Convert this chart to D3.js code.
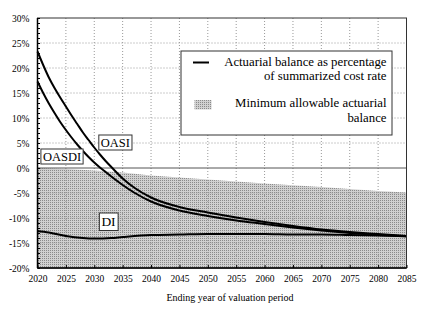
<!DOCTYPE html>
<html><head><meta charset="utf-8">
<script src="https://cdn.jsdelivr.net/npm/d3@7/dist/d3.min.js"></script>
<style>
html,body{margin:0;padding:0;background:#fff;}
</style></head>
<body><svg id="c" width="432" height="336"></svg>
<script>
// ---- data ----
const years = [2020,2021,2022,2023,2024,2025,2026,2027,2028,2029,2030,2031,2032,2033,2035,2037,2040,2045,2050,2055,2060,2065,2070,2075,2080,2085];
const oasi  = [23.3,20.6,18.1,16.0,14.1,12.3,10.5,8.8,7.1,5.6,4.1,2.7,1.4,0.2,-2.1,-3.9,-5.9,-7.8,-8.9,-9.9,-10.8,-11.6,-12.3,-12.8,-13.2,-13.6];
const oasdi = [17.3,15.0,12.9,11.0,9.2,7.6,6.1,4.7,3.4,2.2,1.1,0.1,-0.8,-1.7,-3.4,-4.9,-6.7,-8.5,-9.6,-10.5,-11.2,-11.9,-12.5,-13.0,-13.4,-13.7];
const diYears = [2020,2022,2025,2028,2030,2033,2035,2040,2045,2050,2055,2060,2065,2070,2075,2080,2085];
const di      = [-12.6,-12.9,-13.6,-14.0,-14.1,-14.0,-13.8,-13.4,-13.3,-13.2,-13.2,-13.2,-13.3,-13.3,-13.4,-13.5,-13.6];
const minYears = [2020,2025,2030,2035,2040,2050,2060,2070,2080,2085];
const minVals  = [0,-0.2,-0.5,-0.9,-1.5,-2.3,-3.1,-3.8,-4.6,-4.9];
const xTicks = [2020,2025,2030,2035,2040,2045,2050,2055,2060,2065,2070,2075,2080,2085];
const yTicks = [-20,-15,-10,-5,0,5,10,15,20,25,30];
const legendLabels = [["Actuarial balance as percentage","of summarized cost rate"],["Minimum allowable actuarial","balance"]];
const seriesLabels = ["OASDI","OASI","DI"];

// ---- chart ----
const FF = "Liberation Serif";
const svg = d3.select("#c");
const x = d3.scaleLinear().domain([2020,2085]).range([37.5,406.5]);
const y = d3.scaleLinear().domain([-20,30]).range([268,18]);

const defs = svg.append("defs");
const pat = defs.append("pattern").attr("id","dots").attr("patternUnits","userSpaceOnUse")
  .attr("width",2).attr("height",2);
pat.append("rect").attr("width",2).attr("height",2).attr("fill","#d0d0d0");
pat.append("rect").attr("width",1).attr("height",1).attr("fill","#8a8a8a");

// shaded min area
const minData = minYears.map((yr,i)=>({yr,v:minVals[i]}));
svg.append("path").datum(minData)
  .attr("d", d3.area().x(d=>x(d.yr)).y0(y(-20)).y1(d=>y(d.v)))
  .attr("fill","url(#dots)");

// gridlines
const g = svg.append("g");
g.selectAll(".vg").data(xTicks.slice(1,-1)).join("line")
  .attr("x1",d=>x(d)).attr("x2",d=>x(d)).attr("y1",y(30)).attr("y2",y(-20))
  .attr("stroke","#999").attr("stroke-width",1).attr("stroke-dasharray","1,2");
g.selectAll(".hg").data(yTicks.filter(d=>d!==0&&d!==30&&d!==-20)).join("line")
  .attr("x1",x(2020)).attr("x2",x(2085)).attr("y1",d=>y(d)).attr("y2",d=>y(d))
  .attr("stroke","#999").attr("stroke-width",1).attr("stroke-dasharray","1,2");

// zero line
svg.append("line").attr("x1",x(2020)).attr("x2",x(2085)).attr("y1",y(0)).attr("y2",y(0))
  .attr("stroke","#555").attr("stroke-width",1);

// lines
const line = d3.line().x(d=>x(d[0])).y(d=>y(d[1])).curve(d3.curveMonotoneX);
[[years,oasi],[years,oasdi],[diYears,di]].forEach(([xs,vs])=>{
  svg.append("path").datum(xs.map((v,i)=>[v,vs[i]]))
    .attr("d",line).attr("fill","none").attr("stroke","#000").attr("stroke-width",2);
});

// plot frame
svg.append("rect").attr("x",x(2020)).attr("y",y(30)).attr("width",x(2085)-x(2020)).attr("height",y(-20)-y(30))
  .attr("fill","none").attr("stroke","#333").attr("stroke-width",1);
svg.append("line").attr("x1",x(2020)).attr("x2",x(2020)).attr("y1",y(30)).attr("y2",y(-20))
  .attr("stroke","#000").attr("stroke-width",1.5);
svg.append("line").attr("x1",x(2020)).attr("x2",x(2085)).attr("y1",y(-20)).attr("y2",y(-20))
  .attr("stroke","#000").attr("stroke-width",1.5);

// axes
const yAx = svg.append("g").attr("transform",`translate(${x(2020)},0)`)
  .call(d3.axisLeft(y).tickValues(yTicks).tickFormat(d=>d+"%").tickSize(0).tickPadding(8));
yAx.attr("font-family",null).attr("font-size",null);
yAx.selectAll("text").style("font-family",FF).style("font-size","9.5px");
yAx.select(".domain").remove();
const minorY = d3.range(-20,31,1);
svg.append("g").attr("transform",`translate(${x(2020)},0)`)
  .call(d3.axisRight(y).tickValues(minorY).tickFormat("").tickSize(2.5))
  .call(s=>{s.select(".domain").remove(); s.selectAll("line").attr("stroke","#000");});

const xAx = svg.append("g").attr("transform",`translate(0,${y(-20)})`)
  .call(d3.axisBottom(x).tickValues(xTicks).tickFormat(d3.format("d")).tickSize(0).tickPadding(7));
xAx.attr("font-family",null).attr("font-size",null);
xAx.selectAll("text").style("font-family",FF).style("font-size","9.5px");
xAx.select(".domain").remove();
svg.append("g").attr("transform",`translate(0,${y(-20)})`)
  .call(d3.axisTop(x).tickValues(xTicks).tickFormat("").tickSize(3))
  .call(s=>{s.select(".domain").remove(); s.selectAll("line").attr("stroke","#000");});

svg.append("text").attr("x",230).attr("y",300.5).attr("text-anchor","middle")
  .style("font-family",FF).style("font-size","10px").text("Ending year of valuation period");

// legend
const lg = svg.append("g");
lg.append("rect").attr("x",181).attr("y",51).attr("width",211).attr("height",84)
  .attr("fill","#fff").attr("stroke","#333").attr("stroke-width",1);
lg.append("line").attr("x1",193).attr("x2",209).attr("y1",62.5).attr("y2",62.5)
  .attr("stroke","#000").attr("stroke-width",2);
lg.append("rect").attr("x",194.5).attr("y",100).attr("width",17).attr("height",9.5).attr("fill","url(#dots)");
legendLabels.forEach((lines,i)=>{
  lines.forEach((t,j)=>{
    lg.append("text").attr("x",386.5).attr("y",(i===0?65.5:106.5)+j*(i===0?14:15.5))
      .attr("text-anchor","end").style("font-family",FF).style("font-size","12.8px").text(t);
  });
});

// series labels
const boxes = [
  {lab:seriesLabels[0], yr:2020.6, v:0.8, fs:12.5, h:15},
  {lab:seriesLabels[1], yr:2030.8, v:3.6, fs:12.5, h:15},
  {lab:seriesLabels[2], yr:2030.9, v:-12.5, fs:13.5, h:17.5}
];
boxes.forEach(b=>{
  const gg = svg.append("g");
  const t = gg.append("text").attr("x",x(b.yr)+2).attr("y",0)
    .style("font-family",FF).style("font-size",b.fs+"px").text(b.lab);
  const bb = t.node().getBBox();
  const top = y(b.v)-b.h;
  t.attr("y", top + b.h/2 + b.fs*0.34);
  gg.insert("rect","text").attr("x",x(b.yr)).attr("y",top).attr("width",bb.width+4).attr("height",b.h)
    .attr("fill","#fff").attr("stroke","#333").attr("stroke-width",1);
});
</script></body></html>
